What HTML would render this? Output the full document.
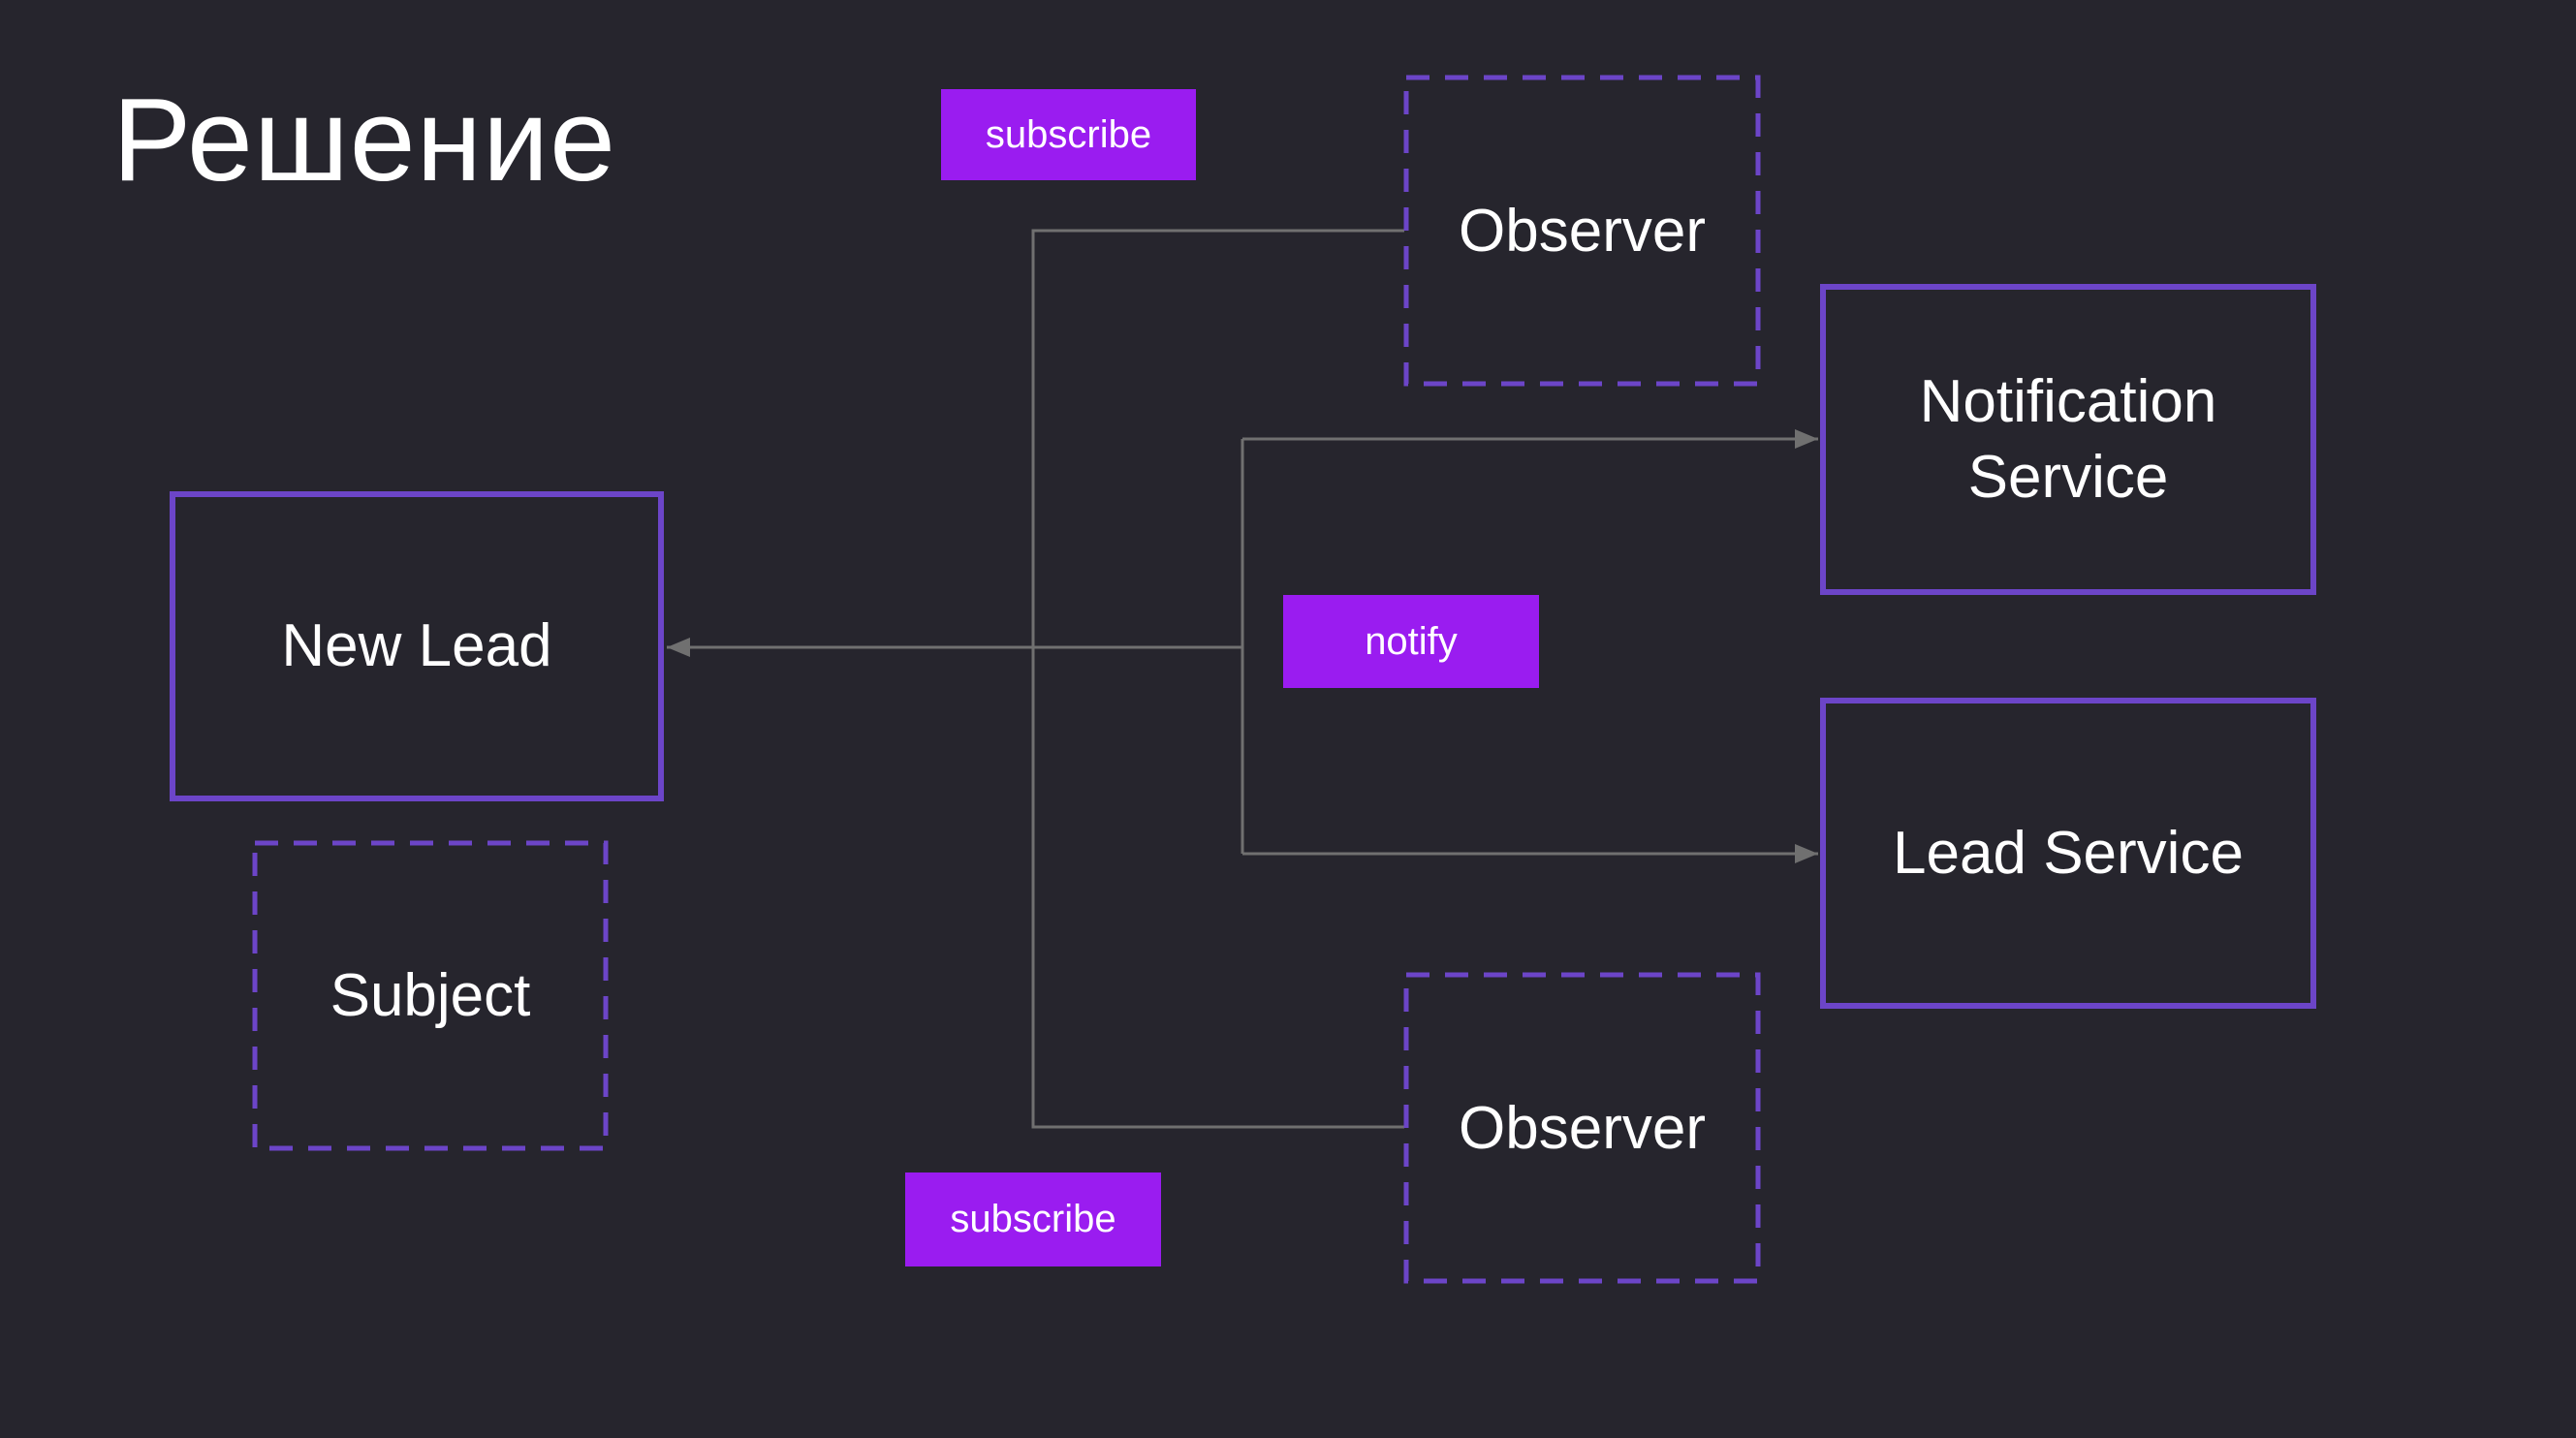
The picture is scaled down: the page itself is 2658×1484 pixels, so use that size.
<!DOCTYPE html>
<html><head><meta charset="utf-8"><style>
html,body{margin:0;padding:0;background:#26252d;}
body{width:2658px;height:1484px;position:relative;overflow:hidden;font-family:"Liberation Sans",sans-serif;color:#fff;}
.b{position:absolute;box-sizing:border-box;display:flex;align-items:center;justify-content:center;text-align:center;}
.s{border:6px solid #6c45c8;font-size:62px;line-height:1.25;}
.d{font-size:62px;}
.p{background:#9a1cf0;font-size:40px;}
</style></head><body>
<div style="position:absolute;left:116px;top:74px;font-size:122px;font-weight:300;letter-spacing:1px;">Решение</div>
<svg width="2658" height="1484" style="position:absolute;left:0;top:0">
<defs><marker id="m" markerWidth="24" markerHeight="20" refX="24" refY="10" orient="auto" markerUnits="userSpaceOnUse"><path d="M0,0L24,10L0,20z" fill="#707070"/></marker></defs>
<g stroke="#707070" stroke-width="3" fill="none">
<path d="M1449,238H1066V1163H1449"/>
<path d="M1282,668H688" marker-end="url(#m)"/>
<path d="M1282,453V881"/>
<path d="M1282,453H1876" marker-end="url(#m)"/>
<path d="M1282,881H1876" marker-end="url(#m)"/>
</g>
<g stroke="#6c45c8" stroke-width="5" fill="none" stroke-dasharray="24 16">
<rect x="1451" y="80" width="363" height="316"/>
<rect x="263" y="870" width="362" height="315"/>
<rect x="1451" y="1006" width="363" height="316"/>
</g></svg>
<div class="b p" style="left:971px;top:92px;width:263px;height:94px;">subscribe</div>
<div class="b d" style="left:1449px;top:78px;width:367px;height:320px;">Observer</div>
<div class="b s" style="left:1878px;top:293px;width:512px;height:321px;">Notification<br>Service</div>
<div class="b s" style="left:175px;top:507px;width:510px;height:320px;">New Lead</div>
<div class="b p" style="left:1324px;top:614px;width:264px;height:96px;">notify</div>
<div class="b s" style="left:1878px;top:720px;width:512px;height:321px;">Lead Service</div>
<div class="b d" style="left:261px;top:868px;width:366px;height:319px;">Subject</div>
<div class="b d" style="left:1449px;top:1004px;width:367px;height:320px;">Observer</div>
<div class="b p" style="left:934px;top:1210px;width:264px;height:97px;">subscribe</div>
</body></html>
